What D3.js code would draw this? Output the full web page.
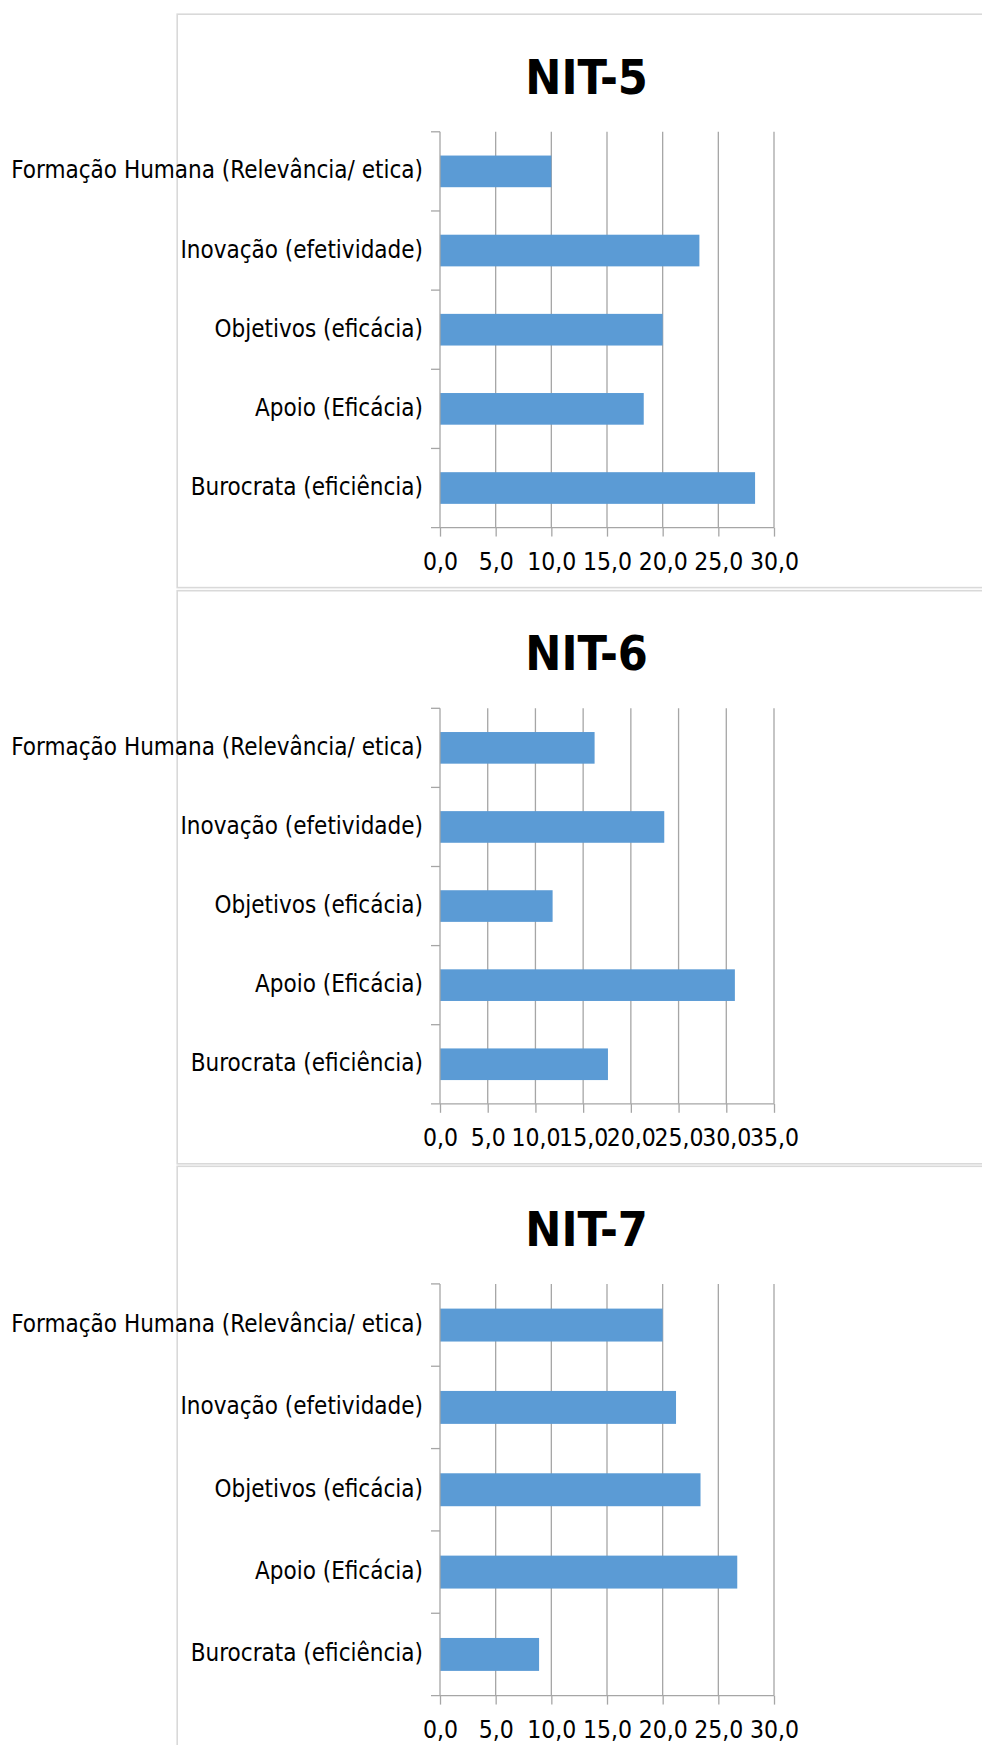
<!DOCTYPE html>
<html lang="pt">
<head>
<meta charset="utf-8">
<title>NIT-5, NIT-6, NIT-7</title>
<script src="https://cdn.jsdelivr.net/npm/d3@7"></script>
<style>
  html, body { margin: 0; padding: 0; background: #ffffff; }
  svg { display: block; }
  .label, .tick-label, .title {
    font-family: "DejaVu Sans Condensed", "DejaVu Sans", sans-serif;
    font-stretch: condensed;
    fill: #000000;
  }
</style>
</head>
<body>
<svg id="chart" width="982" height="1745"></svg>
<script>
// Categories, top to bottom as they appear in each panel
const categories = [
  "Formação Humana (Relevância/ etica)",
  "Inovação (efetividade)",
  "Objetivos (eficácia)",
  "Apoio (Eficácia)",
  "Burocrata (eficiência)"
];

// Percentages per NIT, same order as categories
const nit5Values = [10.0, 23.3, 20.0, 18.3, 28.3];
const nit6Values = [16.2, 23.5, 11.8, 30.9, 17.6];
const nit7Values = [20.0, 21.2, 23.4, 26.7, 8.9];

// Axis tick values per panel
const nit5Ticks = [0, 5, 10, 15, 20, 25, 30];
const nit6Ticks = [0, 5, 10, 15, 20, 25, 30, 35];
const nit7Ticks = [0, 5, 10, 15, 20, 25, 30];

const panelTitles = ["NIT-5", "NIT-6", "NIT-7"];

// Panel frames (chart areas stacked vertically)
const panels = [
  { title: panelTitles[0], values: nit5Values, ticks: nit5Ticks, top: 14.2,  bottom: 587.6 },
  { title: panelTitles[1], values: nit6Values, ticks: nit6Ticks, top: 590.7, bottom: 1163.8 },
  { title: panelTitles[2], values: nit7Values, ticks: nit7Ticks, top: 1166.3, bottom: 1755.6 }
];

const frameLeft = 177.2, frameRight = 996;
const plotLeft = 440, plotRight = 774;
const barColor = "#5B9BD5";
const gridColor = "#a6a6a6";
const frameColor = "#d9d9d9";

const ptLocale = d3.formatLocale({ decimal: ",", thousands: ".", grouping: [3], currency: ["R$", ""] });
const fmt = ptLocale.format(".1f");

const svg = d3.select("#chart");
svg.append("rect").attr("width", 982).attr("height", 1745).attr("fill", "#ffffff");

panels.forEach(p => {
  const g = svg.append("g");

  // frame
  g.append("rect")
    .attr("x", frameLeft).attr("y", p.top)
    .attr("width", frameRight - frameLeft).attr("height", p.bottom - p.top)
    .attr("fill", "#ffffff")
    .attr("stroke", frameColor).attr("stroke-width", 1.6);

  const plotTop = p.top + 117.6;
  const plotBottom = p.bottom - 60;

  const x = d3.scaleLinear()
    .domain([p.ticks[0], p.ticks[p.ticks.length - 1]])
    .range([plotLeft, plotRight]);

  const y = d3.scaleBand()
    .domain(categories)
    .range([plotTop, plotBottom])
    .paddingInner(0.6)
    .paddingOuter(0.3);

  // title
  g.append("text")
    .attr("class", "title")
    .attr("x", (frameLeft + frameRight) / 2)
    .attr("y", p.top + 79.3)
    .attr("text-anchor", "middle")
    .attr("font-size", 48)
    .attr("font-weight", "bold")
    .text(p.title);

  // vertical gridlines
  g.selectAll(".grid")
    .data(p.ticks.slice(1))
    .join("line")
    .attr("x1", d => x(d)).attr("x2", d => x(d))
    .attr("y1", plotTop).attr("y2", plotBottom)
    .attr("stroke", gridColor).attr("stroke-width", 1.3);

  // bars
  g.selectAll(".bar")
    .data(categories.map((c, i) => ({ c, v: p.values[i] })))
    .join("rect")
    .attr("x", x(0))
    .attr("y", d => y(d.c))
    .attr("width", d => x(d.v) - x(0))
    .attr("height", y.bandwidth())
    .attr("fill", barColor);

  // value axis (bottom)
  const xAxis = d3.axisBottom(x)
    .tickValues(p.ticks)
    .tickSize(9)
    .tickSizeOuter(0)
    .tickPadding(16)
    .tickFormat(fmt);

  const xg = g.append("g")
    .attr("transform", `translate(0,${plotBottom})`)
    .call(xAxis);
  xg.select(".domain").remove();
  xg.selectAll(".tick line").attr("stroke", gridColor).attr("stroke-width", 1.3);
  xg.selectAll(".tick text")
    .attr("class", "tick-label")
    .attr("font-size", 24.5)
    .attr("fill", "#000")
    .attr("dy", "0.71em");
  xg.append("line")
    .attr("x1", plotLeft - 9).attr("x2", plotRight)
    .attr("stroke", gridColor).attr("stroke-width", 1.3);

  // category axis (left)
  g.append("line")
    .attr("x1", plotLeft).attr("x2", plotLeft)
    .attr("y1", plotTop).attr("y2", plotBottom)
    .attr("stroke", gridColor).attr("stroke-width", 1.3);

  const step = y.step();
  g.selectAll(".cat-tick")
    .data(d3.range(categories.length))
    .join("line")
    .attr("x1", plotLeft - 9).attr("x2", plotLeft)
    .attr("y1", i => plotTop + i * step)
    .attr("y2", i => plotTop + i * step)
    .attr("stroke", gridColor).attr("stroke-width", 1.3);

  g.selectAll(".label")
    .data(categories)
    .join("text")
    .attr("class", "label")
    .attr("x", 423)
    .attr("y", d => y(d) + y.bandwidth() / 2)
    .attr("dy", "0.29em")
    .attr("text-anchor", "end")
    .attr("font-size", 24)
    .text(d => d);
});
</script>
</body>
</html>
